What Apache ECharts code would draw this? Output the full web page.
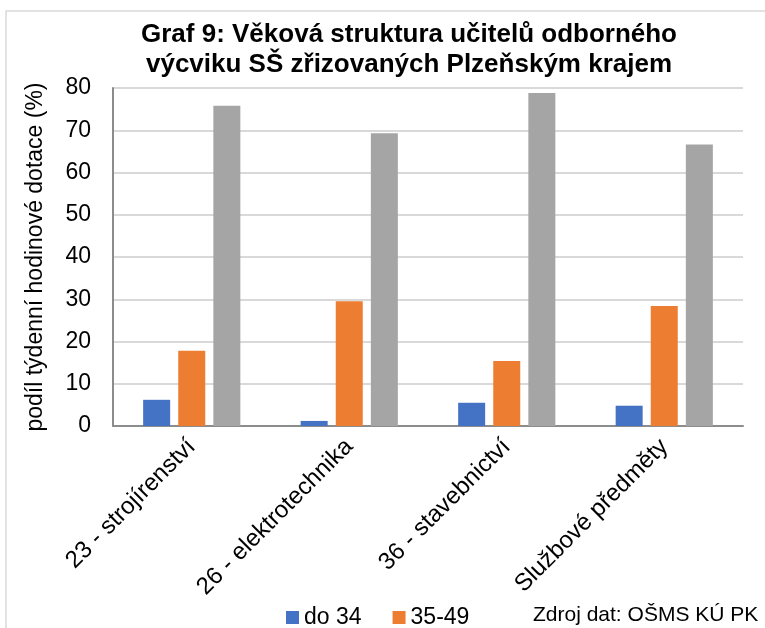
<!DOCTYPE html>
<html>
<head>
<meta charset="utf-8">
<script src="https://cdn.jsdelivr.net/npm/echarts@6/dist/echarts.min.js"></script>
<style>
  html, body { margin: 0; padding: 0; background: #fff; }
  #chart { width: 765px; height: 628px; }
</style>
</head>
<body>
<div id="chart"></div>
<script>
const categories = ['23 - strojírenství', '26 - elektrotechnika', '36 - stavebnictví', 'Službové předměty'];
const do34 = [6.2, 1.2, 5.5, 4.8];
const od35do49 = [17.8, 29.5, 15.4, 28.4];
const nad50 = [75.8, 69.3, 78.8, 66.6];
const yTicks = [0, 10, 20, 30, 40, 50, 60, 70, 80];

const chart = echarts.init(document.getElementById('chart'));
const font = 'Liberation Sans, Arial, sans-serif';

const option = {
    backgroundColor: '#fff',
    textStyle: { fontFamily: font },
    title: {
        text: 'Graf 9: Věková struktura učitelů odborného\nvýcviku SŠ zřizovaných Plzeňským krajem',
        left: 404,
        textAlign: 'center',
        top: 15,
        textStyle: { fontSize: 26, fontWeight: 'bold', color: '#000', lineHeight: 30, fontFamily: font }
    },
    legend: {
        data: ['do 34', '35-49'],
        left: 281,
        top: 601,
        itemWidth: 13,
        itemHeight: 13,
        itemGap: 31,
        icon: 'rect',
        textStyle: { fontSize: 23, color: '#000', fontFamily: font }
    },
    grid: { left: 113, right: 22, top: 88, bottom: 202 },
    xAxis: {
        type: 'category',
        data: categories,
        axisLine: { lineStyle: { color: '#8c8c8c', width: 2 } },
        axisTick: { show: false },
        axisLabel: { rotate: 45, fontSize: 24, color: '#000', margin: 17, interval: 0 }
    },
    yAxis: {
        type: 'value',
        min: yTicks[0],
        max: yTicks[yTicks.length - 1],
        interval: 10,
        name: 'podíl týdenní hodinové dotace (%)',
        nameLocation: 'middle',
        nameGap: 66,
        nameTextStyle: { fontSize: 23, color: '#000' },
        axisLine: { show: true, lineStyle: { color: '#8c8c8c', width: 2 } },
        axisTick: { show: false },
        axisLabel: { fontSize: 23, color: '#000', margin: 22 },
        splitLine: { lineStyle: { color: '#d9d9d9', width: 2 } }
    },
    series: [
        { name: 'do 34', type: 'bar', data: do34, barWidth: 27, barGap: '30%', itemStyle: { color: '#4472C4' } },
        { name: '35-49', type: 'bar', data: od35do49, barWidth: 27, barGap: '30%', itemStyle: { color: '#ED7D31' } },
        { name: '50 a více', type: 'bar', data: nad50, barWidth: 27, barGap: '30%', itemStyle: { color: '#A5A5A5' } }
    ],
    graphic: [
        {
            type: 'rect',
            shape: { x: 6, y: 11, width: 800, height: 700 },
            style: { fill: 'none', stroke: '#d9d9d9', lineWidth: 1.5 },
            silent: true
        },
        {
            type: 'text',
            left: 533,
            top: 605,
            style: { text: 'Zdroj dat: OŠMS KÚ PK', fontSize: 21, fill: '#000', fontFamily: font }
        }
    ]
};

chart.setOption(option);
</script>
</body>
</html>
